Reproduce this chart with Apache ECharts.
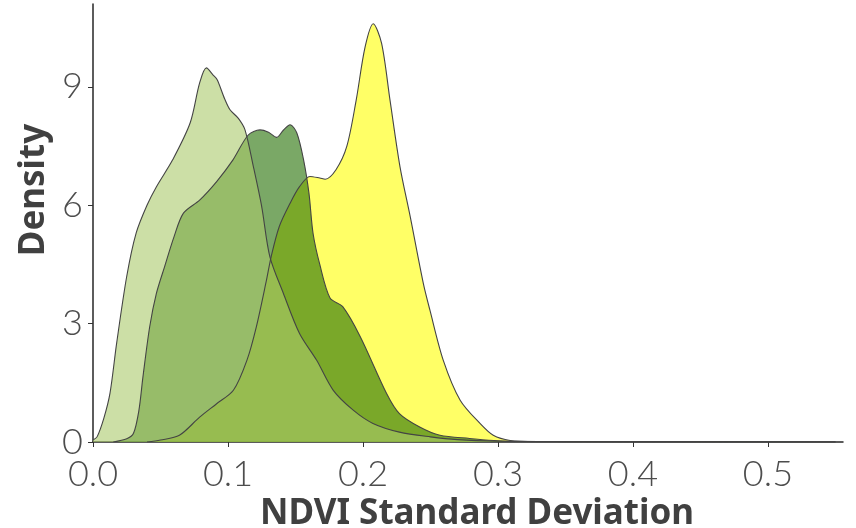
<!DOCTYPE html>
<html>
<head>
<meta charset="utf-8">
<script src="https://cdn.jsdelivr.net/npm/echarts@6/dist/echarts.min.js"></script>
<style>
  html, body { margin: 0; padding: 0; background: #fff; }
  #density { width: 856px; height: 528px; }
</style>
</head>
<body>
<div id="density"></div>
<script>
// density curves, [ndvi sd, density]
const yellowCurve = [
    [0.04, 0], [0.05, 0.05], [0.064, 0.17], [0.079, 0.63], [0.0916, 0.97], [0.104, 1.31],
    [0.114, 2.07], [0.121, 2.92], [0.1285, 4.1], [0.132, 4.7], [0.138, 5.46], [0.146, 6.05],
    [0.153, 6.47], [0.1607, 6.73], [0.168, 6.69], [0.172, 6.66], [0.18, 6.9], [0.188, 7.49],
    [0.195, 8.67], [0.2015, 10.0], [0.2076, 10.6], [0.2138, 10.1], [0.22, 8.67], [0.2274, 6.98],
    [0.235, 5.71], [0.2447, 4.02], [0.2496, 3.34], [0.2595, 2.07], [0.272, 1.06], [0.2867, 0.47],
    [0.2965, 0.17], [0.309, 0.04], [0.33, 0.01], [0.4, 0.005], [0.55, 0]
];
const darkGreenCurve = [
    [0.015, 0], [0.025, 0.08], [0.03, 0.22], [0.034, 0.8], [0.037, 1.65], [0.042, 2.92],
    [0.047, 3.77], [0.053, 4.44], [0.06, 5.2], [0.067, 5.8], [0.079, 6.13], [0.0916, 6.6],
    [0.1037, 7.15], [0.115, 7.78], [0.1237, 7.91], [0.13, 7.85], [0.136, 7.72], [0.141, 7.9],
    [0.146, 8.04], [0.151, 7.83], [0.156, 7.15], [0.16, 6.3], [0.163, 5.29], [0.168, 4.5],
    [0.1756, 3.65], [0.185, 3.43], [0.198, 2.67], [0.2175, 1.23], [0.227, 0.72], [0.242, 0.38],
    [0.257, 0.17], [0.279, 0.09], [0.3, 0.03], [0.35, 0.01], [0.45, 0.005], [0.55, 0]
];
const lightGreenCurve = [
    [0, 0.05], [0.003, 0.13], [0.008, 0.6], [0.0126, 1.24], [0.0175, 2.5], [0.025, 4.2],
    [0.032, 5.3], [0.04, 6.0], [0.047, 6.47], [0.059, 7.15], [0.072, 8.09], [0.079, 9.1],
    [0.084, 9.48], [0.089, 9.3], [0.092, 9.18], [0.0975, 8.7], [0.1015, 8.42], [0.1077, 8.2],
    [0.1126, 7.91], [0.1188, 6.98], [0.125, 5.96], [0.131, 4.7], [0.141, 3.77], [0.153, 2.75],
    [0.1657, 2.07], [0.178, 1.31], [0.193, 0.8], [0.2074, 0.47], [0.227, 0.25], [0.25, 0.13],
    [0.27, 0.06], [0.3, 0.02], [0.35, 0.005], [0.45, 0.003], [0.55, 0]
];
const xTicks = [0, 0.1, 0.2, 0.3, 0.4, 0.5];
const yTicks = [0, 3, 6, 9];

const fillColors = ['#ffff00', '#216e00', '#aaca6b'];

const densityChart = echarts.init(document.getElementById('density'));

// ggplot-like density layer
const layer = function (data, color) {
    return {
        type: 'line',
        data: data,
        smooth: 0.3,
        showSymbol: false,
        sampling: null,
        silent: true,
        lineStyle: { color: '#444', width: 1.1 },
        areaStyle: { color: color, opacity: 0.6 }
    };
};

const option = {
    animation: false,
    backgroundColor: '#fff',
    grid: { left: 93, right: 13, top: 4, bottom: 86, outerBoundsMode: 'none' },
    xAxis: {
        type: 'value',
        min: 0,
        max: 0.5556,
        name: 'NDVI Standard Deviation',
        nameLocation: 'middle',
        nameGap: 47,
        nameTextStyle: {
            fontFamily: 'Noto Sans', fontWeight: 'bold', fontSize: 35, color: '#404040',
            padding: [0, 0, 0, 18]
        },
        splitLine: { show: false },
        axisLine: { show: true, lineStyle: { color: '#262626', width: 1.5 } },
        axisTick: { show: true, length: 5, customValues: xTicks, lineStyle: { color: '#333' } },
        axisLabel: {
            customValues: xTicks,
            margin: 14,
            fontFamily: 'Lato', fontWeight: 300, fontSize: 36, color: '#4d4d4d',
            formatter: function (v) { return v.toFixed(1); }
        }
    },
    yAxis: {
        type: 'value',
        min: 0,
        max: 11.1,
        name: 'Density',
        nameLocation: 'middle',
        nameGap: 35,
        nameRotate: 90,
        nameTextStyle: {
            fontFamily: 'Noto Sans', fontWeight: 'bold', fontSize: 35, color: '#404040',
            padding: [0, 0, 0, 66]
        },
        splitLine: { show: false },
        axisLine: { show: true, lineStyle: { color: '#262626', width: 1.5 } },
        axisTick: { show: true, length: 5, customValues: yTicks, lineStyle: { color: '#333' } },
        axisLabel: {
            customValues: yTicks,
            margin: 10,
            fontFamily: 'Lato', fontWeight: 300, fontSize: 36, color: '#4d4d4d'
        }
    },
    series: [
        layer(yellowCurve, fillColors[0]),
        layer(darkGreenCurve, fillColors[1]),
        layer(lightGreenCurve, fillColors[2])
    ]
};

densityChart.setOption(option);
</script>
</body>
</html>
